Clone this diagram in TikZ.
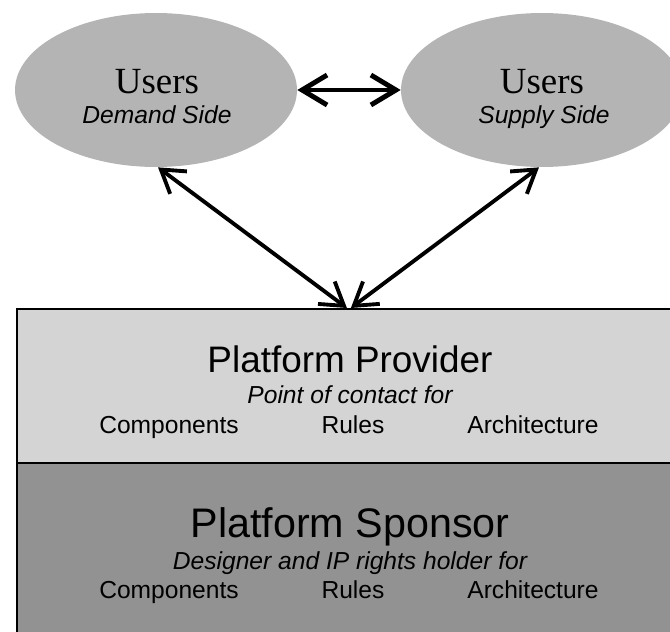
\documentclass[tikz,border=0pt]{standalone}
\usepackage{fontspec}
\setmainfont{Liberation Sans}
\newfontfamily\userfont{Liberation Serif}
\usetikzlibrary{arrows.meta, shapes.geometric, positioning}
\definecolor{usergray}{RGB}{180,180,180}
\definecolor{provgray}{RGB}{212,212,212}
\definecolor{sponsgray}{RGB}{146,146,146}
\tikzset{
  users/.style    = {ellipse, fill=usergray, minimum width=5.64cm, minimum height=3.08cm, inner sep=0pt},
  layer/.style    = {draw, line width=1.1pt, minimum width=13.28cm, anchor=north west, inner sep=0pt},
  link/.style     = {line width=2.2pt, {Straight Barb[length=4.4mm,width=5.6mm]}-{Straight Barb[length=4.4mm,width=5.6mm]}},
  peer/.style     = {line width=2.8pt, {Straight Barb[length=5mm,width=6mm]}-{Straight Barb[length=5mm,width=6mm]}},
  usertitle/.style = {font=\userfont\fontsize{21}{25}\selectfont, inner sep=0pt, anchor=base},
  head/.style     = {font=\fontsize{21}{25}\selectfont, inner sep=0pt, anchor=base},
  sub/.style      = {font=\fontsize{14}{16}\selectfont\itshape, inner sep=0pt, anchor=base},
  item/.style     = {font=\fontsize{14}{16}\selectfont, inner sep=0pt, anchor=base}
}

\begin{document}
\begin{tikzpicture}[x=0.02cm, y=-0.02cm]
\useasboundingbox (0,0) rectangle (670,632);

% Users on both sides
\node[users] (demand) at (156,90) {};
\node[users] (supply) at (542,90) {};
\node[usertitle] (demandname) at (157,93) {Users};
\node[sub] (demandside) at (157,123) {Demand Side};
\node[usertitle] (supplyname) at (542,93) {Users};
\node[sub] (supplyside) at (544,123) {Supply Side};

% Platform layers
\node[layer, fill=provgray, minimum height=3.08cm] (provider) at (16,308) {};
\node[layer, fill=sponsgray, minimum height=3.6cm] (sponsor) at (16,462) {};

\node[head] (provtitle) at (350,372) {Platform Provider};
\node[sub] (provsub) at (350,403) {Point of contact for};
\node[item] (provcomp) at (169,433) {Components};
\node[item] (provrules) at (353,433) {Rules};
\node[item] (provarch) at (533,433) {Architecture};

\node[head, font=\fontsize{23.5}{28}\selectfont] (sponstitle) at (350,537) {Platform Sponsor};
\node[sub] (sponssub) at (350,569) {Designer and IP rights holder for};
\node[item] (sponscomp) at (169,598) {Components};
\node[item] (sponsrules) at (353,598) {Rules};
\node[item] (sponsarch) at (533,598) {Architecture};

% connectors
\draw[peer] (demand.east) -- (supply.west);
\draw[link] ([xshift=0.04cm]demand.south) -- ([xshift=-0.04cm]provider.north);
\draw[link] ([xshift=-0.06cm]supply.south) -- ([xshift=0.04cm]provider.north);
\end{tikzpicture}
\end{document}
